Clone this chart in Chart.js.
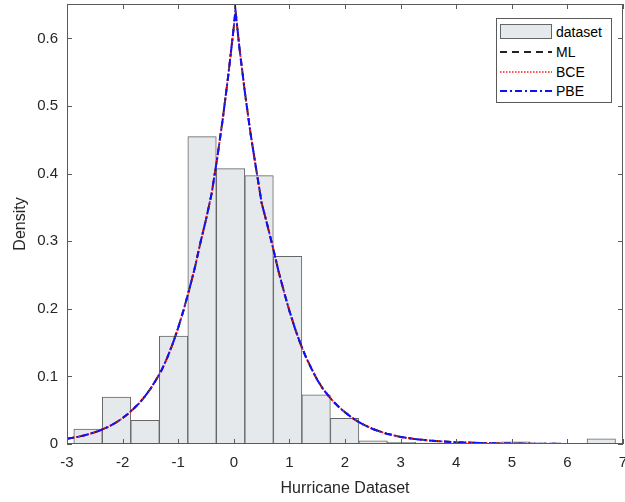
<!DOCTYPE html>
<html>
<head>
<meta charset="utf-8">
<script src="https://cdn.jsdelivr.net/npm/chart.js@4/dist/chart.umd.min.js"></script>
<style>
  html, body { margin: 0; padding: 0; background: #fff; }
  #wrap { position: relative; width: 625px; height: 502px; }
  #legend {
    position: absolute; left: 496px; top: 18px; width: 116px; height: 85px;
    box-sizing: border-box; border: 1px solid #5a5a5a; background: #fff;
    font-family: "Liberation Sans", Arial, sans-serif; font-size: 14px; color: #000;
  }
  .row { position: absolute; left: 3px; height: 20px; display: flex; align-items: center; }
  .row span { margin-left: 4px; }
</style>
</head>
<body>
<div id="wrap">
  <canvas id="chart" width="625" height="502"></canvas>
  <div id="legend">
    <div class="row" style="top:3px">
      <svg width="52" height="20"><rect x="0.5" y="2.5" width="51" height="14" fill="#e6e9eb" stroke="#666"/></svg>
      <span>dataset</span>
    </div>
    <div class="row" style="top:23px">
      <svg width="52" height="20"><line x1="0" y1="10" x2="52" y2="10" stroke="#222" stroke-width="1.8" stroke-dasharray="7 5"/></svg>
      <span>ML</span>
    </div>
    <div class="row" style="top:43px">
      <svg width="52" height="20"><line x1="0" y1="10" x2="52" y2="10" stroke="#ff1a1a" stroke-width="1.6" stroke-dasharray="1.5 1.5"/></svg>
      <span>BCE</span>
    </div>
    <div class="row" style="top:62px">
      <svg width="52" height="20"><line x1="0" y1="10" x2="52" y2="10" stroke="#1010ff" stroke-width="1.8" stroke-dasharray="7 3 2 3"/></svg>
      <span>PBE</span>
    </div>
  </div>
</div>
<script>
// histogram bins (centres) and density heights
const binCenters = [-2.622, -2.109, -1.596, -1.083, -0.571, -0.058, 0.455, 0.968, 1.481, 1.994,
                    2.506, 3.019, 3.532, 4.045, 4.558, 5.071, 5.583, 6.096, 6.609];
const binDensity = [0.0222, 0.0696, 0.0351, 0.1596, 0.4548, 0.4074, 0.397, 0.2776, 0.0726, 0.0381,
                    0.0047, 0.0024, 0.0014, 0.0006, 0, 0.0031, 0, 0, 0.0078];

// fitted density curves (the three fits overlap)
const curveX = [-3.0, -2.9, -2.8, -2.7, -2.6, -2.5, -2.4, -2.3, -2.2, -2.1, -2.0, -1.9, -1.8, -1.7, -1.6, -1.5,
                -1.4, -1.3, -1.2, -1.1, -1.0, -0.9, -0.8, -0.7, -0.6, -0.5, -0.4, -0.3, -0.2, -0.1, 0.0, 0.03,
                0.1, 0.2, 0.3, 0.4, 0.5, 0.6, 0.7, 0.8, 0.9, 1.0, 1.1, 1.2, 1.3, 1.4, 1.5, 1.6, 1.7, 1.8, 1.9,
                2.0, 2.1, 2.2, 2.3, 2.5, 2.75, 3.0, 3.25, 3.5, 4.0, 4.5, 5.0, 5.5, 6.0, 7.0];
const mlY = [0.0078, 0.0091, 0.0107, 0.0126, 0.0148, 0.0173, 0.0203, 0.0238, 0.0279, 0.0327, 0.0383, 0.0449,
             0.0523, 0.0606, 0.0703, 0.0815, 0.0946, 0.109, 0.127, 0.148, 0.172, 0.199, 0.229, 0.261, 0.298,
             0.332, 0.370, 0.422, 0.480, 0.545, 0.617, 0.642,
             0.587, 0.52, 0.46, 0.408, 0.357, 0.325, 0.292, 0.257, 0.226, 0.197, 0.171, 0.148, 0.128, 0.111,
             0.095, 0.082, 0.0715, 0.062, 0.054, 0.047, 0.0405, 0.0348, 0.030, 0.0222, 0.0152, 0.0105, 0.0074,
             0.0052, 0.0026, 0.0013, 0.00065, 0.0003, 0.00016, 0.00004];
const bceY = mlY.slice();
const pbeY = mlY.slice();

const xTicks = [-3, -2, -1, 0, 1, 2, 3, 4, 5, 6, 7];
const yTicks = [0, 0.1, 0.2, 0.3, 0.4, 0.5, 0.6];

const textColor = "#262626";
const font = "'Liberation Sans', Arial, sans-serif";

function points(xs, ys) {
  return xs.map((x, i) => ({ x, y: ys[i] }));
}

function curve(label, ys, color, dash, width, order) {
  return {
    type: "line",
    label,
    data: points(curveX, ys),
    borderColor: color,
    borderWidth: width,
    borderDash: dash,
    pointRadius: 0,
    tension: 0,
    fill: false,
    order
  };
}

// box around the axes with inward ticks on all sides
const frame = {
  id: "frame",
  afterDatasetsDraw(chart) {
    const { ctx, chartArea: a, scales } = chart;
    const line = (x1, y1, x2, y2) => { ctx.beginPath(); ctx.moveTo(x1, y1); ctx.lineTo(x2, y2); ctx.stroke(); };
    ctx.save();
    ctx.strokeStyle = "#5a5a5a";
    ctx.lineWidth = 1;
    ctx.strokeRect(a.left + 0.5, a.top + 0.5, a.right - a.left - 1, a.bottom - a.top - 1);
    xTicks.forEach((v) => {
      const px = Math.round(scales.x.getPixelForValue(v)) + 0.5;
      line(px, a.bottom, px, a.bottom - 5);
      line(px, a.top, px, a.top + 5);
    });
    yTicks.forEach((v) => {
      const py = Math.round(scales.y.getPixelForValue(v)) + 0.5;
      line(a.left, py, a.left + 5, py);
      line(a.right, py, a.right - 5, py);
    });
    ctx.restore();
  }
};

new Chart(document.getElementById("chart"), {
  type: "bar",
  data: {
    datasets: [
      {
        label: "dataset",
        data: points(binCenters, binDensity),
        backgroundColor: "#e6e9eb",
        borderColor: "#666666",
        borderWidth: 1,
        borderSkipped: false,
        barPercentage: 1,
        categoryPercentage: 1,
        order: 4
      },
      curve("ML", mlY, "#222222", [7, 5], 2, 3),
      curve("BCE", bceY, "#ff1a1a", [1.5, 1.5], 1.8, 2),
      curve("PBE", pbeY, "#1010ff", [7, 3, 2, 3], 2, 1)
    ]
  },
  options: {
    responsive: false,
    animation: false,
    devicePixelRatio: 1,
    layout: { padding: { left: 0, top: 4, right: 2, bottom: 0 } },
    plugins: { legend: { display: false }, tooltip: { enabled: false } },
    scales: {
      x: {
        type: "linear",
        min: -3,
        max: 7,
        offset: false,
        grid: { display: false, drawTicks: false },
        border: { display: false },
        ticks: {
          stepSize: 1,
          padding: 10,
          color: textColor,
          font: { family: font, size: 15 },
          maxRotation: 0
        },
        title: {
          display: true,
          text: "Hurricane Dataset",
          color: textColor,
          font: { family: font, size: 16 },
          padding: { top: 0, bottom: 4 }
        },
        afterFit(scale) {
          scale.height = 58;
          scale.paddingLeft = 0;
          scale.paddingRight = 0;
        }
      },
      y: {
        min: 0,
        max: 0.651,
        grid: { display: false, drawTicks: false },
        border: { display: false },
        ticks: {
          stepSize: 0.1,
          includeBounds: false,
          padding: 9,
          color: textColor,
          font: { family: font, size: 15 },
          callback: (v) => Math.round(v * 10) / 10
        },
        title: {
          display: true,
          text: "Density",
          color: textColor,
          font: { family: font, size: 16 },
          padding: { top: 11, bottom: 0 }
        },
        afterFit(scale) {
          scale.width = 67;
          scale.paddingTop = 0;
          scale.paddingBottom = 0;
        }
      }
    }
  },
  plugins: [frame]
});
</script>
</body>
</html>
